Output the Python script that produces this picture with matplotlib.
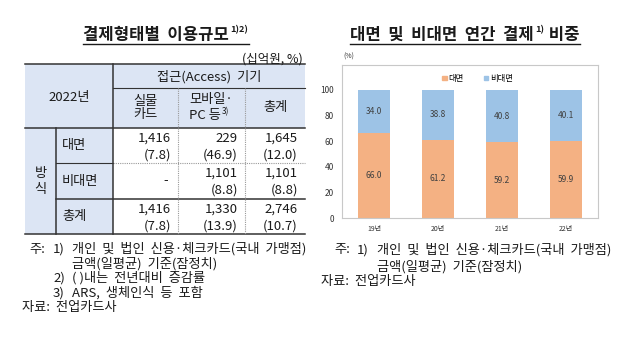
import numpy as np
import matplotlib
matplotlib.use('Agg')
import matplotlib.pyplot as plt
from matplotlib.patches import Rectangle, Patch

plt.rcParams['font.family'] = ['Noto Sans CJK KR', 'DejaVu Sans']

# 표 데이터 (2022년, 십억원 / %)
row_names = ['대면', '비대면', '총계']
amount = [[1416, 229, 1645], [None, 1101, 1101], [1416, 1330, 2746]]
growth = [[7.8, 46.9, 12.0], [None, 8.8, 8.8], [7.8, 13.9, 10.7]]

# 차트 데이터 (%)
years = ['19년', '20년', '21년', '22년']
face = [66.0, 61.2, 59.2, 59.9]
nonface = [34.0, 38.8, 40.8, 40.1]

W, H = 638, 344
fig = plt.figure(figsize=(W / 100, H / 100), dpi=100)

# 픽셀 좌표용 캔버스
cv = fig.add_axes([0, 0, 1, 1])
cv.set_xlim(0, W)
cv.set_ylim(H, 0)
cv.axis('off')
cv.set_zorder(0)

TXT = '#1a1a1a'
SHADE = '#dce5f4'
renderer = fig.canvas.get_renderer()


def text_width(t):
    bb = t.get_window_extent(renderer=renderer)
    return bb.width


def title_with_sup(x0, y, parts, size):
    # parts: (text, is_sup)
    x = x0
    for s, sup in parts:
        if sup:
            t = cv.text(x, y - 5, s, fontsize=size * 0.55, fontweight='bold', color=TXT, va='center')
        else:
            t = cv.text(x, y, s, fontsize=size, fontweight='bold', color=TXT, va='center')
        x += text_width(t) + 1
    cv.plot([x0, x], [y + 9, y + 9], color=TXT, lw=1.0)


def note(x, y, s):
    cv.text(x, y, s, fontsize=nfs, color=TXT, va='center')


# ---------------- 왼쪽: 표 ----------------
title_with_sup(83, 35, [('결제형태별  이용규모', False), ('1)2)', True)], 12)
cv.text(303, 59, '(십억원, %)', fontsize=9, color=TXT, ha='right', va='center')

xl, xa, xb, x1, x2, xr = 25, 56, 113, 178, 245, 305
y0, y1, y2, y3, y4, y5 = 64, 88, 128, 163, 199, 234

cv.add_patch(Rectangle((xl, y0), xr - xl, y2 - y0, color=SHADE, lw=0))
cv.add_patch(Rectangle((xl, y2), xb - xl, y5 - y2, color=SHADE, lw=0))

dark = dict(color='#333333', lw=1.1)
cv.plot([xl, xr], [y0, y0], **dark)
cv.plot([xb, xr], [y1, y1], color='#333333', lw=0.8)
cv.plot([xl, xr], [y2, y2], **dark)
cv.plot([xa, xb], [y3, y3], color='#333333', lw=0.8)
cv.plot([xb, xr], [y3, y3], color='#999999', lw=0.8, ls=(0, (1, 1)))
cv.plot([xa, xr], [y4, y4], **dark)
cv.plot([xl, xr], [y5, y5], **dark)
cv.plot([xb, xb], [y0, y5], **dark)
cv.plot([xa, xa], [y2, y5], **dark)
for xv in [x1, x2]:
    cv.plot([xv, xv], [y1, y5], color='#999999', lw=0.8, ls=(0, (1, 1)))

fs = 9.5
cv.text((xl + xb) / 2, 97, '2022년', fontsize=fs, color=TXT, ha='center', va='center')
cv.text((xb + xr) / 2, 77, '접근(Access)  기기', fontsize=fs, color=TXT, ha='center', va='center')
cv.text((xb + x1) / 2, 108, '실물\n카드', fontsize=fs, color=TXT, ha='center', va='center', linespacing=1.0)
cv.text((x1 + x2) / 2, 99, '모바일·', fontsize=fs, color=TXT, ha='center', va='center')
cv.text(189, 116, 'PC 등', fontsize=fs, color=TXT, ha='left', va='center')
cv.text(222, 112, '3)', fontsize=6, color=TXT, ha='left', va='center')
cv.text((x2 + xr) / 2, 108, '총계', fontsize=fs, color=TXT, ha='center', va='center')
cv.text((xl + xa) / 2, 181, '방\n식', fontsize=fs, color=TXT, ha='center', va='center', linespacing=1.3)

row_tops = [y2, y3, y4]
row_bots = [y3, y4, y5]
col_right = [x1 - 7, x2 - 7, xr - 7]
for i, name in enumerate(row_names):
    yt, yb = row_tops[i], row_bots[i]
    cv.text(62, (yt + yb) / 2, name, fontsize=fs, color=TXT, ha='left', va='center')
    for j in range(3):
        if amount[i][j] is None:
            cv.text(col_right[j] - 3, (yt + yb) / 2, '-', fontsize=fs, color=TXT, ha='right', va='center')
            continue
        cv.text(col_right[j], yt + 10, f'{amount[i][j]:,}', fontsize=fs, color=TXT, ha='right', va='center')
        cv.text(col_right[j], yt + 27, f'({growth[i][j]:.1f})', fontsize=fs, color=TXT, ha='right', va='center')

nfs = 9.5
note(29, 249, '주:')
note(53, 249, '1)')
note(72, 249, '개인  및  법인  신용·체크카드(국내  가맹점)')
note(72, 264, '금액(일평균)  기준(잠정치)')
note(53, 278, '2)')
note(72, 278, '( )내는  전년대비  증감률')
note(53, 293, '3)')
note(72, 293, 'ARS,  생체인식  등  포함')
note(22, 308, '자료:  전업카드사')

# ---------------- 오른쪽: 누적 막대 ----------------
title_with_sup(350, 35, [('대면  및  비대면  연간  결제', False), ('1)', True), (' 비중', False)], 12)

L, R, T, B = 342, 598, 65, 218
ax = fig.add_axes([L / W, (H - B) / H, (R - L) / W, (B - T) / H])
ax.set_zorder(1)
x = np.arange(len(years))
orange = '#f4b183'
blue = '#9dc3e6'
b1 = ax.bar(x, face, width=0.5, color=orange)
b2 = ax.bar(x, nonface, width=0.5, bottom=face, color=blue)
ax.bar_label(b1, labels=[f'{v:.1f}' for v in face], label_type='center', fontsize=6, color='#404040')
ax.bar_label(b2, labels=[f'{v:.1f}' for v in nonface], label_type='center', fontsize=6, color='#404040')
ax.set_xlim(-0.5, 3.5)
ax.set_ylim(0, 119.5)
ax.set_yticks(range(0, 101, 20))
ax.set_xticks(x)
ax.set_xticklabels(years)
ax.tick_params(axis='y', length=0, pad=6, labelsize=6, labelcolor='#333333')
ax.tick_params(axis='x', length=0, pad=5, labelsize=5, labelcolor='#333333')
for s in ax.spines.values():
    s.set_color('#c8c8c8')
    s.set_linewidth(0.8)
ax.legend(handles=[Patch(color=orange, label='대면'), Patch(color=blue, label='비대면')],
          loc='upper center', bbox_to_anchor=(0.53, 0.99), ncol=2, frameon=False, fontsize=6,
          handlelength=0.5, handleheight=0.5, handletextpad=0.2, columnspacing=2.5)

cv.text(343, 57, '(%)', fontsize=5, color='#333333', va='center')

note(334, 250, '주:')
note(357, 250, '1)')
note(377, 250, '개인  및  법인  신용·체크카드(국내  가맹점)')
note(377, 267, '금액(일평균)  기준(잠정치)')
note(321, 281, '자료:  전업카드사')

fig.savefig('out.png', dpi=100)
